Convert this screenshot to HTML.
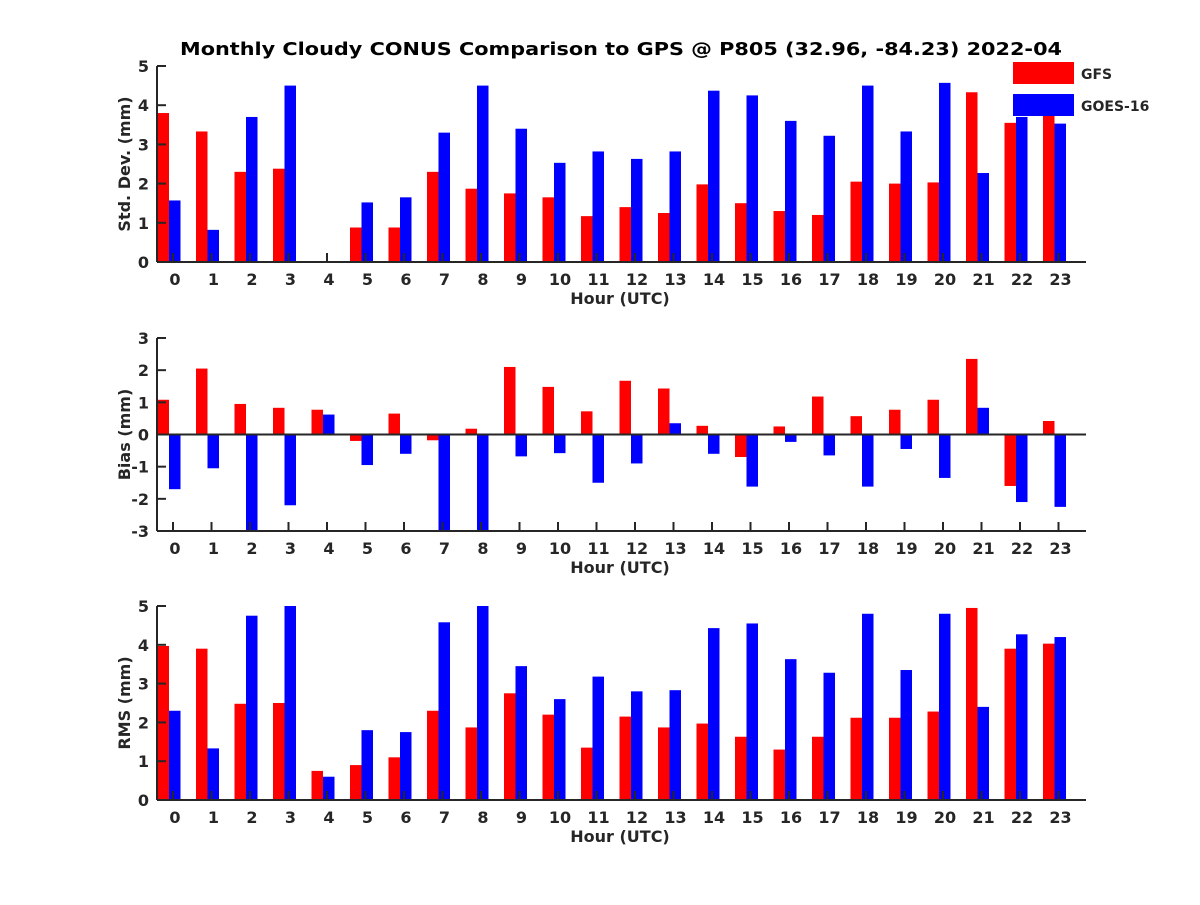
<!DOCTYPE html>
<html><head><meta charset="utf-8"><style>
body{margin:0;background:#fff}
svg text{font-family:"DejaVu Sans","Liberation Sans",sans-serif;font-weight:bold;fill:#262626}
</style></head><body>
<svg id="c" width="1200" height="900">
<text x="180" y="55" font-size="18" textLength="882" lengthAdjust="spacingAndGlyphs" style="fill:#000">Monthly Cloudy CONUS Comparison to GPS @ P805 (32.96, -84.23) 2022-04</text>
</svg>
<script>
const hours=[0,1,2,3,4,5,6,7,8,9,10,11,12,13,14,15,16,17,18,19,20,21,22,23];
const stdGFS=[3.8,3.33,2.3,2.38,0,0.88,0.88,2.3,1.87,1.75,1.65,1.17,1.4,1.25,1.98,1.5,1.3,1.2,2.05,2.0,2.03,4.33,3.55,3.88];
const stdGOES=[1.57,0.82,3.7,4.5,0,1.52,1.65,3.3,4.5,3.4,2.53,2.82,2.63,2.82,4.37,4.25,3.6,3.22,4.5,3.33,4.57,2.27,3.7,3.53];
const biasGFS=[1.08,2.05,0.95,0.83,0.77,-0.2,0.65,-0.18,0.18,2.1,1.48,0.72,1.67,1.43,0.27,-0.7,0.25,1.18,0.57,0.77,1.08,2.35,-1.6,0.42];
const biasGOES=[-1.7,-1.05,-3.2,-2.2,0.62,-0.95,-0.6,-3.2,-3.2,-0.68,-0.58,-1.5,-0.9,0.35,-0.6,-1.62,-0.23,-0.65,-1.62,-0.45,-1.35,0.83,-2.1,-2.25];
const rmsGFS=[3.97,3.9,2.48,2.5,0.75,0.9,1.1,2.3,1.87,2.75,2.2,1.35,2.15,1.87,1.97,1.63,1.3,1.63,2.12,2.12,2.28,4.95,3.9,4.03];
const rmsGOES=[2.3,1.33,4.75,5.0,0.6,1.8,1.75,4.58,5.0,3.45,2.6,3.18,2.8,2.83,4.43,4.55,3.63,3.28,4.8,3.35,4.8,2.4,4.27,4.2];
const stdTicks=[0,1,2,3,4,5];
const biasTicks=[-3,-2,-1,0,1,2,3];
const rmsTicks=[0,1,2,3,4,5];
const svg=document.getElementById('c');
const NS='http://www.w3.org/2000/svg';
function mk(t,a,p){const e=document.createElementNS(NS,t);for(const k in a)e.setAttribute(k,a[k]);(p||svg).appendChild(e);return e;}
const xL=157,xR=1086;
function X(h){return 173+h*38.5;}
function panel(id,top,bot,ymin,ymax,ticks,ylabel,g1,g2){
  const Y=v=>bot-(v-ymin)/(ymax-ymin)*(bot-top);
  const g=mk('g',{});
  
  
  const cp=mk('clipPath',{id:'cp'+id},g);mk('rect',{x:xL,y:top,width:xR-xL,height:bot-top},cp);
  const bars=mk('g',{'clip-path':'url(#cp'+id+')'},g);
  const y0=Y(Math.max(ymin,0));
  hours.forEach((h,i)=>{
    const c=X(h)-4;
    [[g1[i],c-11.5,'#ff0000','gfs'],[g2[i],c,'#0000ff','goes']].forEach(([v,x,col,n])=>{
      const yv=Y(v);
      const r=mk('rect',{x:x,y:Math.min(yv,y0),width:11.5,height:Math.abs(yv-y0),fill:col},bars);
      
      
    });
  });
  const zy=ymin<0?Y(0):bot;
  mk('line',{x1:xL,x2:xR,y1:zy,y2:zy,stroke:'#262626','stroke-width':2},g);
  mk('line',{x1:xL,x2:xL,y1:top,y2:bot,stroke:'#262626','stroke-width':2},g);
  if(ymin<0) mk('line',{x1:xL,x2:xR,y1:bot,y2:bot,stroke:'#262626','stroke-width':2},g);
  ticks.forEach(t=>{const y=Y(t);
    mk('line',{x1:xL,x2:xL+9,y1:y,y2:y,stroke:'#262626','stroke-width':2},g);
    const tx=mk('text',{x:xL-8,y:y+6,'text-anchor':'end','font-size':16},g);tx.textContent=t;
    
    
  });
  hours.forEach(h=>{const x=X(h);
    mk('line',{x1:x,x2:x,y1:bot,y2:bot-9,stroke:'#262626','stroke-width':2},g);
    const tx=mk('text',{x:x+2,y:bot+23,'text-anchor':'middle','font-size':16},g);tx.textContent=h;
    
    
  });
  const xl=mk('text',{x:620,y:bot+42,'text-anchor':'middle','font-size':16},g);xl.textContent='Hour (UTC)';
  
  
  const cy=(top+bot)/2;
  const yl=mk('text',{x:130,y:cy,'text-anchor':'middle','font-size':16,transform:'rotate(-90 130 '+cy+')'},g);yl.textContent=ylabel;
  
  
}
panel('std',66,262,0,5,stdTicks,'Std. Dev. (mm)',stdGFS,stdGOES);
panel('bias',338,531,-3,3,biasTicks,'Bias (mm)',biasGFS,biasGOES);
panel('rms',606,800,0,5,rmsTicks,'RMS (mm)',rmsGFS,rmsGOES);
[['GFS','#ff0000',62],['GOES-16','#0000ff',94]].forEach(([n,c,y])=>{
  const r=mk('rect',{x:1013,y:y,width:61,height:22,fill:c});
  
  
  const t=mk('text',{x:1081,y:y+17,'font-size':14});t.textContent=n;
  
  
});
</script>
</body></html>
